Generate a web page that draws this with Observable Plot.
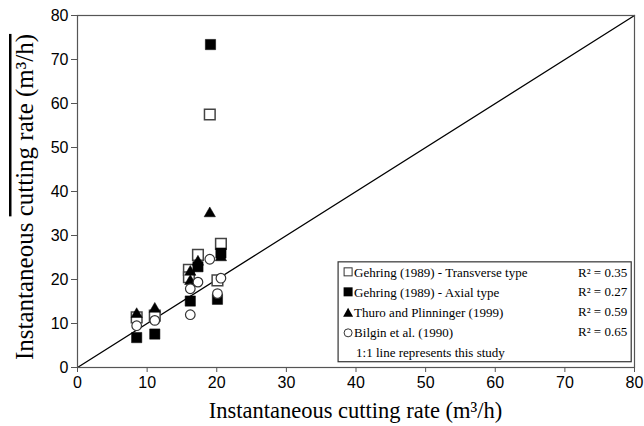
<!DOCTYPE html>
<html>
<head>
<meta charset="utf-8">
<script src="https://cdn.jsdelivr.net/npm/d3@7"></script>
<script src="https://cdn.jsdelivr.net/npm/@observablehq/plot@0.6"></script>
<style>
  html, body { margin: 0; padding: 0; background: #fff; }
  svg { display: block; }
</style>
</head>
<body>
<div id="chart"></div>
<script>
// ---- data ----
const seriesNames = [
  "Gehring (1989) - Transverse type",
  "Gehring (1989) - Axial type",
  "Thuro and Plinninger (1999)",
  "Bilgin et al. (1990)"
];
const r2Labels = ["R² = 0.35", "R² = 0.27", "R² = 0.59", "R² = 0.65"];
const noteLabel = "1:1 line represents this study";

const transverseX = [8.5, 11.1, 16.0, 16.0, 17.3, 19.0, 20.1, 20.6];
const transverseY = [11.4, 11.8, 22.2, 20.5, 25.6, 57.5, 19.8, 28.1];
const axialX = [8.5, 11.1, 16.2, 17.3, 19.1, 20.1, 20.6];
const axialY = [6.8, 7.6, 15.1, 22.9, 73.4, 15.5, 26.0];
const thuroX = [8.5, 11.1, 16.2, 16.2, 17.3, 19.0, 20.6];
const thuroY = [12.1, 13.3, 21.7, 19.6, 24.0, 35.0, 25.0];
const bilginX = [8.5, 11.1, 16.2, 16.2, 17.3, 19.0, 20.1, 20.6];
const bilginY = [9.5, 10.7, 12.0, 17.9, 19.4, 24.6, 16.8, 20.3];

const xTicks = [0, 10, 20, 30, 40, 50, 60, 70, 80];
const yTicks = [0, 10, 20, 30, 40, 50, 60, 70, 80];
const oneToOne = [0, 80];

const xTitle = "Instantaneous cutting rate (m³/h)";
const yTitleA = "Instantaneous ";
const yTitleB = "cutting rate (m³/h)";

// ---- build tables ----
const toRows = (xs, ys) => xs.map((x, i) => ({x, y: ys[i]}));
const transverse = toRows(transverseX, transverseY);
const axial = toRows(axialX, axialY);
const thuro = toRows(thuroX, thuroY);
const bilgin = toRows(bilginX, bilginY);
const diag = oneToOne.map(v => ({x: v, y: v}));

const chart = Plot.plot({
  width: 644,
  height: 426,
  marginLeft: 77,
  marginRight: 10,
  marginTop: 15,
  marginBottom: 59,
  style: {fontFamily: "'Liberation Sans', Arial, sans-serif", fontSize: "16px", color: "#000", background: "#fff"},
  x: {domain: [0, 80]},
  y: {domain: [0, 80]},
  marks: [
    Plot.line(diag, {x: "x", y: "y", stroke: "#000", strokeWidth: 1.3}),
    Plot.dot(transverse, {x: "x", y: "y", symbol: "square", r: 6, fill: "#fff", stroke: "#444", strokeWidth: 1.5}),
    Plot.dot(axial, {x: "x", y: "y", symbol: "square", r: 5.8, fill: "#000", stroke: "#000", strokeWidth: 0.5}),
    Plot.dot(thuro, {x: "x", y: "y", symbol: "triangle", r: 4.2, fill: "#000", stroke: "#000", strokeWidth: 0.5}),
    Plot.dot(bilgin, {x: "x", y: "y", symbol: "circle", r: 4.8, fill: "#fff", stroke: "#333", strokeWidth: 1.2}),
    Plot.frame({stroke: "#555", strokeWidth: 1.2}),
    Plot.axisX({ticks: xTicks, tickSize: 5, tickPadding: 4, label: null, stroke: "#555", fill: "#000", fontSize: 16}),
    Plot.axisY({ticks: yTicks, tickSize: 6, tickPadding: 3, label: null, stroke: "#555", fill: "#000", fontSize: 16})
  ]
});
document.getElementById("chart").appendChild(chart);

// ---- titles and legend ----
const svg = d3.select(chart);
const X = v => chart.scale("x").apply(v);
const Y = v => chart.scale("y").apply(v);
const serif = "'Liberation Serif', 'Times New Roman', serif";

svg.append("text")
  .attr("x", (X(0) + X(80)) / 2)
  .attr("y", 418)
  .attr("text-anchor", "middle")
  .attr("font-family", serif)
  .attr("font-size", 22.5)
  .attr("fill", "#000")
  .text(xTitle);

const yt = svg.append("text")
  .attr("transform", `translate(33, ${(Y(0) + Y(80)) / 2 + 6}) rotate(-90)`)
  .attr("text-anchor", "middle")
  .attr("font-family", serif)
  .attr("font-size", 25)
  .attr("fill", "#000");
yt.append("tspan").text(yTitleA);
yt.append("tspan").style("text-decoration", "overline").text(yTitleB);

// legend box (positioned in data space, lower right)
const bx0 = X(37.5), bx1 = X(79.6), by0 = Y(23.9), by1 = Y(1.2);
const lg = svg.append("g").attr("text-anchor", "start");
lg.append("rect")
  .attr("x", bx0).attr("y", by0)
  .attr("width", bx1 - bx0).attr("height", by1 - by0)
  .attr("fill", "#fff").attr("stroke", "#333").attr("stroke-width", 1.2);

const rowY = i => by0 + 11 + i * 20;
const symX = bx0 + 10;
seriesNames.forEach((name, i) => {
  const cy = rowY(i);
  if (i === 0) lg.append("rect").attr("x", symX - 4).attr("y", cy - 5).attr("width", 8).attr("height", 8).attr("fill", "#fff").attr("stroke", "#333").attr("stroke-width", 1);
  if (i === 1) lg.append("rect").attr("x", symX - 4.5).attr("y", cy - 5.5).attr("width", 9).attr("height", 9).attr("fill", "#000");
  if (i === 2) lg.append("path").attr("d", `M${symX - 5},${cy + 4} L${symX},${cy - 5} L${symX + 5},${cy + 4} Z`).attr("fill", "#000");
  if (i === 3) lg.append("circle").attr("cx", symX).attr("cy", cy).attr("r", 4).attr("fill", "#fff").attr("stroke", "#333").attr("stroke-width", 1);
  lg.append("text")
    .attr("x", symX + 6).attr("y", cy + 4.5)
    .attr("text-anchor", "start")
    .attr("font-family", serif).attr("font-size", 13).attr("fill", "#000")
    .text(name);
  lg.append("text")
    .attr("x", bx1 - 4).attr("y", cy + 4.5 - (i === 0 ? 0 : 1))
    .attr("text-anchor", "end")
    .attr("font-family", serif).attr("font-size", 13).attr("fill", "#000")
    .text(r2Labels[i]);
});
lg.append("text")
  .attr("x", symX + 8).attr("y", rowY(4) + 4.5)
  .attr("text-anchor", "start")
  .attr("font-family", serif).attr("font-size", 13).attr("fill", "#000")
  .text(noteLabel);
</script>
</body>
</html>
